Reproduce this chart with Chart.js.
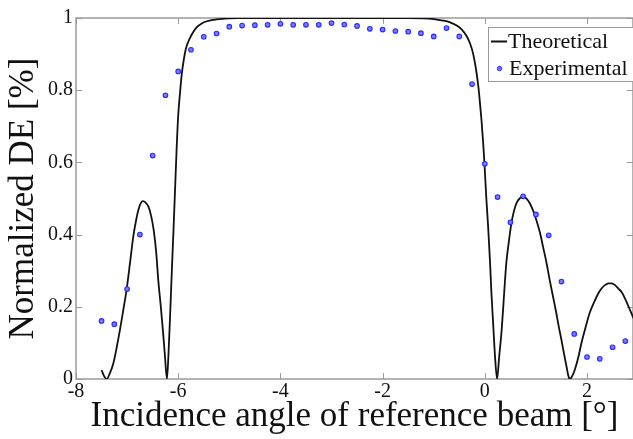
<!DOCTYPE html>
<html>
<head>
<meta charset="utf-8">
<script src="https://cdn.jsdelivr.net/npm/chart.js@4"></script>
<style>
  html, body { margin: 0; padding: 0; background: #fff; }
  #wrap { width: 633px; height: 439px; }
</style>
</head>
<body>
<div id="wrap"><canvas id="de-chart" width="633" height="439"></canvas></div>
<script>
// --- données ---

const theoX = [
  -7.50, -7.45, -7.40, -7.34, -7.27, -7.20, -7.14, -7.07, -7.01, -6.94,
  -6.88, -6.83, -6.78, -6.73, -6.69, -6.64, -6.58, -6.53, -6.48, -6.43,
  -6.39, -6.34, -6.30, -6.26, -6.22, -6.19, -6.16, -6.13, -6.09, -6.06,
  -6.03, -6.00, -5.96, -5.93, -5.89, -5.85, -5.80, -5.74, -5.64, -5.54,
  -5.44, -5.30, -5.18, -5.00, -4.86, -4.00, -3.00, -2.00, -1.50, -1.20,
  -1.00, -0.82, -0.68, -0.55, -0.45, -0.36, -0.29, -0.23, -0.18, -0.13,
  -0.095, -0.065, -0.03, 0.00, 0.03, 0.065, 0.10, 0.13, 0.165, 0.196,
  0.24, 0.28, 0.33, 0.375, 0.42, 0.47, 0.52, 0.57, 0.62, 0.68,
  0.75, 0.82, 0.88, 0.95, 1.01, 1.08, 1.14, 1.21, 1.27, 1.34,
  1.40, 1.45, 1.50, 1.55, 1.60, 1.63, 1.66, 1.71, 1.76, 1.83,
  1.89, 1.97, 2.05, 2.14, 2.22, 2.28, 2.35, 2.42, 2.48, 2.55,
  2.61, 2.68, 2.74, 2.80, 2.87, 2.92
];
const theoY = [
  0.025, 0.008, 0.000, 0.015, 0.043, 0.090, 0.136, 0.195, 0.247, 0.325,
  0.394, 0.435, 0.468, 0.488, 0.493, 0.489, 0.477, 0.452, 0.413, 0.350,
  0.274, 0.200, 0.136, 0.065, 0.000, 0.070, 0.170, 0.280, 0.420, 0.530,
  0.640, 0.730, 0.800, 0.845, 0.885, 0.915, 0.935, 0.953, 0.974, 0.985,
  0.991, 0.995, 0.997, 0.999, 1.000, 1.000, 1.000, 1.000, 1.000, 0.999,
  0.997, 0.993, 0.988, 0.979, 0.968, 0.951, 0.930, 0.902, 0.865, 0.815,
  0.765, 0.717, 0.650, 0.579, 0.500, 0.422, 0.330, 0.237, 0.150, 0.071,
  0.000, 0.060, 0.136, 0.230, 0.320, 0.380, 0.431, 0.465, 0.487, 0.500,
  0.505, 0.499, 0.487, 0.465, 0.440, 0.405, 0.366, 0.320, 0.274, 0.225,
  0.182, 0.143, 0.108, 0.070, 0.034, 0.012, 0.000, 0.008, 0.025, 0.060,
  0.099, 0.142, 0.182, 0.213, 0.237, 0.250, 0.260, 0.265, 0.265, 0.260,
  0.251, 0.240, 0.224, 0.205, 0.182, 0.165
];

const expX = [
  -7.50, -7.25, -7.00, -6.75, -6.50, -6.25, -6.00, -5.75, -5.50, -5.25,
  -5.00, -4.75, -4.50, -4.25, -4.00, -3.75, -3.50, -3.25, -3.00, -2.75,
  -2.50, -2.25, -2.00, -1.75, -1.50, -1.25, -1.00, -0.75, -0.50, -0.25,
  0.00, 0.25, 0.50, 0.75, 1.00, 1.25, 1.50, 1.75, 2.00, 2.25,
  2.50, 2.75
];
const expY = [
  0.161, 0.152, 0.249, 0.400, 0.619, 0.786, 0.852, 0.912, 0.948, 0.957,
  0.976, 0.979, 0.980, 0.981, 0.984, 0.981, 0.981, 0.981, 0.986, 0.982,
  0.978, 0.970, 0.968, 0.964, 0.962, 0.958, 0.949, 0.972, 0.949, 0.817,
  0.596, 0.504, 0.434, 0.506, 0.456, 0.398, 0.270, 0.125, 0.061, 0.056,
  0.088, 0.105
];

const xTicks = [-8, -6, -4, -2, 0, 2];
const xTickLabels = ['-8', '-6', '-4', '-2', '0', '2'];
const yTicks = [0, 0.2, 0.4, 0.6, 0.8, 1];
const yTickLabels = ['0', '0.2', '0.4', '0.6', '0.8', '1'];

const seriesNames = ['Theoretical', 'Experimental'];

const SERIF = "'Liberation Serif', 'Times New Roman', serif";
const AXIS_GRAY = '#9a9a9a';
const EXP_BLUE = '#2a2aff';

// cadre + petites graduations vers l'intérieur
const framePlugin = {
  id: 'frame',
  beforeDatasetsDraw(chart) {
    const { ctx, chartArea: a, scales } = chart;
    ctx.save();
    ctx.strokeStyle = AXIS_GRAY;
    ctx.lineWidth = 1.5;
    ctx.strokeRect(a.left, a.top, a.right - a.left, a.bottom - a.top);
    ctx.lineWidth = 1;
    ctx.beginPath();
    xTicks.forEach(v => {
      const px = Math.round(scales.x.getPixelForValue(v)) + 0.5;
      ctx.moveTo(px, a.bottom); ctx.lineTo(px, a.bottom - 6);
      ctx.moveTo(px, a.top); ctx.lineTo(px, a.top + 6);
    });
    yTicks.forEach(v => {
      const py = Math.round(scales.y.getPixelForValue(v)) + 0.5;
      ctx.moveTo(a.left, py); ctx.lineTo(a.left + 6, py);
      ctx.moveTo(a.right, py); ctx.lineTo(a.right - 6, py);
    });
    ctx.stroke();
    ctx.restore();
  }
};

// légende encadrée, en haut à droite
const legendBoxPlugin = {
  id: 'legendBox',
  afterDraw(chart) {
    const { ctx } = chart;
    const ds = chart.data.datasets;
    ctx.save();
    ctx.fillStyle = '#fff';
    ctx.fillRect(488.5, 27.5, 146, 54);
    ctx.strokeStyle = AXIS_GRAY;
    ctx.lineWidth = 1;
    ctx.strokeRect(488.5, 27.5, 146, 54);

    ctx.strokeStyle = '#111';
    ctx.lineWidth = 2;
    ctx.beginPath();
    ctx.moveTo(491, 41.5);
    ctx.lineTo(507, 41.5);
    ctx.stroke();

    ctx.fillStyle = ds[1].backgroundColor;
    ctx.strokeStyle = EXP_BLUE;
    ctx.lineWidth = 1;
    ctx.beginPath();
    ctx.arc(499.5, 68.5, 2.2, 0, Math.PI * 2);
    ctx.fill();
    ctx.stroke();

    ctx.fillStyle = '#111';
    ctx.font = '22px ' + SERIF;
    ctx.textBaseline = 'middle';
    ctx.textAlign = 'left';
    ctx.fillText(ds[0].label, 508, 42);
    ctx.fillText(ds[1].label, 509, 69);
    ctx.restore();
  }
};

const ctxDE = document.getElementById('de-chart');

new Chart(ctxDE, {
  type: 'scatter',
  data: {
    datasets: [
      {
        label: seriesNames[0],
        data: theoX.map((x, i) => ({ x: x, y: theoY[i] })),
        showLine: true,
        borderColor: '#111',
        borderWidth: 1.8,
        pointRadius: 0,
        cubicInterpolationMode: 'monotone',
        order: 2
      },
      {
        label: seriesNames[1],
        data: expX.map((x, i) => ({ x: x, y: expY[i] })),
        showLine: false,
        pointRadius: 2.3,
        pointBorderWidth: 1.1,
        borderColor: EXP_BLUE,
        backgroundColor: '#7a7aff',
        order: 1
      }
    ]
  },
  options: {
    responsive: false,
    animation: false,
    layout: { autoPadding: false, padding: { top: 18, left: 0, right: 0, bottom: 0 } },
    plugins: {
      legend: { display: false },
      tooltip: { enabled: false }
    },
    scales: {
      x: {
        type: 'linear',
        min: -8,
        max: 2.9,
        afterBuildTicks: (scale) => { scale.ticks = xTicks.map(v => ({ value: v })); },
        afterFit: (scale) => { scale.height = 60; },
        grid: { display: false, drawTicks: false },
        border: { display: false },
        ticks: {
          padding: 1,
          color: '#111',
          font: { family: SERIF, size: 20 },
          callback: (v, i) => xTickLabels[i]
        },
        title: {
          display: true,
          text: 'Incidence angle of reference beam [°]',
          color: '#111',
          font: { family: SERIF, size: 35 },
          padding: { top: 0, bottom: 1 }
        }
      },
      y: {
        type: 'linear',
        min: 0,
        max: 1,
        afterBuildTicks: (scale) => { scale.ticks = yTicks.map(v => ({ value: v })); },
        afterFit: (scale) => { scale.width = 76; },
        grid: { display: false, drawTicks: false },
        border: { display: false },
        ticks: {
          padding: 3,
          color: '#111',
          font: { family: SERIF, size: 20 },
          callback: (v, i) => yTickLabels[i]
        },
        title: {
          display: true,
          text: 'Normalized DE [%]',
          color: '#111',
          font: { family: SERIF, size: 35 },
          padding: { top: 3, bottom: 0 }
        }
      }
    }
  },
  plugins: [framePlugin, legendBoxPlugin]
});
</script>
</body>
</html>
